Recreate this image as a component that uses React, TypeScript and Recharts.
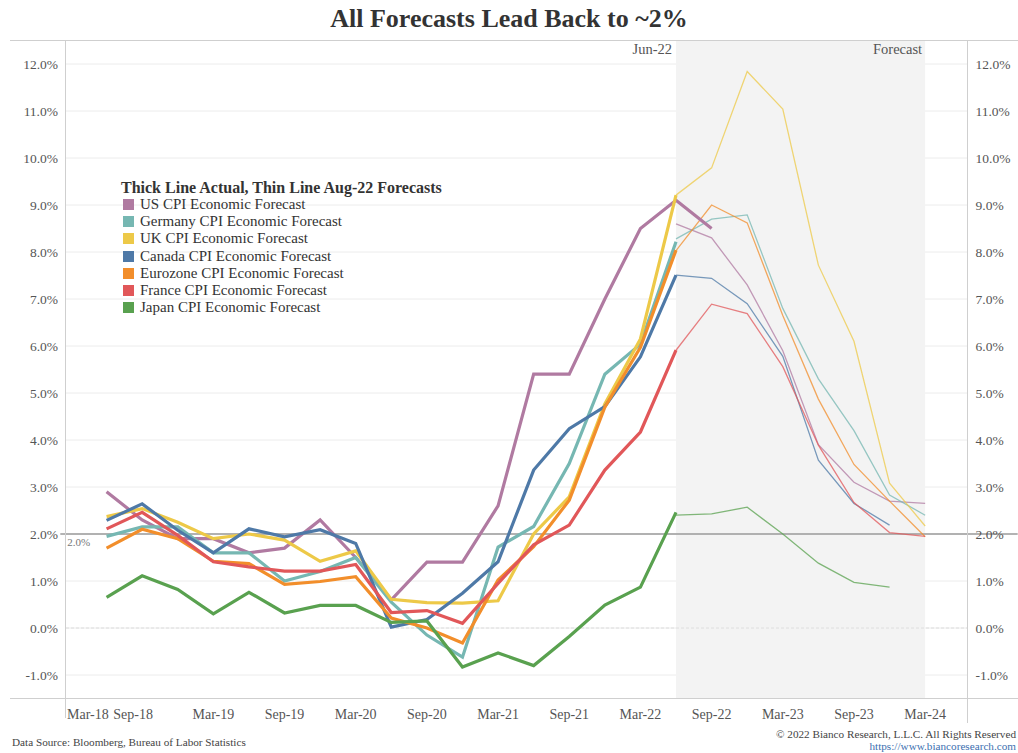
import React from "react";
import {
  LineChart,
  Line,
  XAxis,
  YAxis,
  CartesianGrid,
  ReferenceArea,
  ReferenceLine,
  Legend,
} from "recharts";

const FONT = "'Liberation Serif', Georgia, serif";

// quarter-end labels, index 0 = Mar-18
const quarters = [
  "Mar-18", "Jun-18", "Sep-18", "Dec-18",
  "Mar-19", "Jun-19", "Sep-19", "Dec-19",
  "Mar-20", "Jun-20", "Sep-20", "Dec-20",
  "Mar-21", "Jun-21", "Sep-21", "Dec-21",
  "Mar-22", "Jun-22", "Sep-22", "Dec-22",
  "Mar-23", "Jun-23", "Sep-23", "Dec-23",
  "Mar-24",
];
const xTicks = [0, 2, 4, 6, 8, 10, 12, 14, 16, 18, 20, 22, 24];
const yTicks = [-1, 0, 1, 2, 3, 4, 5, 6, 7, 8, 9, 10, 11, 12];

// actual prints start at Jun-18, Aug-22 forecasts start at Jun-22
const ACTUAL_FROM = 1;
const FORECAST_FROM = 17;

const usActual = [2.9, 2.3, 1.9, 1.9, 1.6, 1.7, 2.3, 1.5, 0.6, 1.4, 1.4, 2.6, 5.4, 5.4, 7.0, 8.5, 9.1, 8.5];
const germanyActual = [1.95, 2.15, 2.15, 1.6, 1.6, 1.0, 1.2, 1.5, 0.55, -0.15, -0.62, 1.72, 2.16, 3.5, 5.4, 6.04, 8.22];
const ukActual = [2.37, 2.54, 2.25, 1.9, 2.0, 1.87, 1.42, 1.64, 0.61, 0.54, 0.53, 0.58, 2.0, 2.79, 4.77, 6.15, 9.21];
const canadaActual = [2.29, 2.64, 2.08, 1.6, 2.11, 1.94, 2.09, 1.8, 0.02, 0.18, 0.74, 1.41, 3.36, 4.24, 4.71, 5.77, 7.51];
const eurozoneActual = [1.7, 2.1, 1.9, 1.42, 1.37, 0.93, 0.99, 1.09, 0.21, 0.0, -0.32, 1.02, 1.73, 2.72, 4.7, 5.97, 8.04];
const franceActual = [2.11, 2.46, 1.97, 1.41, 1.3, 1.21, 1.21, 1.35, 0.33, 0.37, 0.1, 0.95, 1.77, 2.19, 3.36, 4.17, 5.91];
const japanActual = [0.65, 1.11, 0.82, 0.3, 0.76, 0.32, 0.48, 0.48, 0.12, 0.15, -0.83, -0.53, -0.8, -0.18, 0.49, 0.87, 2.46];

const usForecast = [8.6, 8.3, 7.3, 5.9, 3.9, 3.1, 2.7, 2.65];
const germanyForecast = [8.28, 8.7, 8.79, 6.8, 5.3, 4.2, 2.83, 2.4];
const ukForecast = [9.21, 9.79, 11.84, 11.04, 7.72, 6.1, 3.08, 2.17];
const canadaForecast = [7.51, 7.44, 6.9, 5.78, 3.57, 2.65, 2.19];
const eurozoneForecast = [8.03, 9.0, 8.62, 6.65, 4.87, 3.48, 2.7, 1.94];
const franceForecast = [5.91, 6.89, 6.69, 5.56, 3.89, 2.67, 2.03, 1.95];
const japanForecast = [2.4, 2.43, 2.57, 2.0, 1.38, 0.97, 0.87];

const series = [
  { key: "us", name: "US CPI Economic Forecast", color: "#b07aa1", actual: usActual, forecast: usForecast },
  { key: "de", name: "Germany CPI Economic Forecast", color: "#76b7b2", actual: germanyActual, forecast: germanyForecast },
  { key: "uk", name: "UK CPI Economic Forecast", color: "#edc948", actual: ukActual, forecast: ukForecast },
  { key: "ca", name: "Canada CPI Economic Forecast", color: "#4e79a7", actual: canadaActual, forecast: canadaForecast },
  { key: "ez", name: "Eurozone CPI Economic Forecast", color: "#f28e2b", actual: eurozoneActual, forecast: eurozoneForecast },
  { key: "fr", name: "France CPI Economic Forecast", color: "#e15759", actual: franceActual, forecast: franceForecast },
  { key: "jp", name: "Japan CPI Economic Forecast", color: "#59a14f", actual: japanActual, forecast: japanForecast },
];

const rows = quarters.map((label, q) => {
  const row: Record<string, any> = { q, label };
  series.forEach((s) => {
    const a = s.actual[q - ACTUAL_FROM];
    const f = s.forecast[q - FORECAST_FROM];
    row[s.key + "A"] = a === undefined ? null : a;
    row[s.key + "F"] = f === undefined ? null : f;
  });
  return row;
});

const pct = (v: number) => `${v.toFixed(1)}%`;

function QuarterTick({ x, y, payload }: any) {
  const v = payload.value;
  // first label is pushed inside the frame, second nudged left to keep the gap
  const anchor = v === 0 ? "start" : "middle";
  const dx = v === 0 ? -4 : v === 2 ? -9 : 0;
  return (
    <text x={x + dx} y={y} dy={12} textAnchor={anchor} fill="#555" fontSize={14} fontFamily={FONT}>
      {quarters[v]}
    </text>
  );
}

function BandLabels({ viewBox }: any) {
  const { x, y, width } = viewBox;
  return (
    <g fill="#555" fontSize={14.5} fontFamily={FONT}>
      <text x={x - 4} y={y + 13} textAnchor="end">Jun-22</text>
      <text x={x + width - 3} y={y + 13} textAnchor="end">Forecast</text>
    </g>
  );
}

function TargetLabel({ viewBox }: any) {
  return (
    <text x={viewBox.x + 7} y={viewBox.y + 12} fill="#777" fontSize={11} fontFamily={FONT}>
      2.0%
    </text>
  );
}

function LegendBox() {
  return (
    <div style={{ fontFamily: FONT, color: "#333", textAlign: "left" }}>
      <div style={{ fontWeight: "bold", fontSize: 16, lineHeight: "16px" }}>
        Thick Line Actual, Thin Line Aug-22 Forecasts
      </div>
      {series.map((s) => (
        <div key={s.key} style={{ display: "flex", alignItems: "center", height: 17.2, fontSize: 15 }}>
          <span style={{ width: 11, height: 11, background: s.color, marginLeft: 2, marginRight: 6 }} />
          {s.name}
        </div>
      ))}
    </div>
  );
}

const frame = "#cfcfcf";

export default function App() {
  return (
    <div style={{ position: "relative", width: 1018, height: 753, overflow: "hidden", background: "#fff", fontFamily: FONT }}>
      <style>{"body{margin:0}"}</style>
      <div
        style={{
          position: "absolute", top: 3, left: 0, width: 1018, textAlign: "center",
          fontSize: 26, fontWeight: "bold", color: "#333", lineHeight: "32px",
        }}
      >
        All Forecasts Lead Back to ~2%
      </div>

      <LineChart width={1018} height={753} data={rows} margin={{ top: 40.5, right: 0, bottom: 24.5, left: 0 }}>
        <ReferenceArea
          x1={FORECAST_FROM}
          x2={24}
          y1={-1.5}
          y2={12.5}
          fill="#f3f3f3"
          fillOpacity={1}
          stroke="none"
          label={<BandLabels />}
        />
        <CartesianGrid vertical={false} stroke="#ececec" />
        <ReferenceLine y={0} stroke="#dedede" strokeDasharray="3 2" />
        <XAxis
          type="number"
          dataKey="q"
          domain={[-0.14, 25.19]}
          ticks={xTicks}
          axisLine={false}
          tickLine={false}
          height={30}
          tick={<QuarterTick />}
          allowDataOverflow
        />
        <YAxis
          domain={[-1.5, 12.5]}
          ticks={yTicks}
          tickFormatter={pct}
          width={66}
          axisLine={false}
          tickLine={false}
          tick={{ fill: "#555", fontSize: 13.5, fontFamily: FONT }}
          allowDataOverflow
        />
        <YAxis
          yAxisId="right"
          orientation="right"
          domain={[-1.5, 12.5]}
          ticks={yTicks}
          tickFormatter={pct}
          width={50.5}
          axisLine={false}
          tickLine={false}
          tick={{ fill: "#555", fontSize: 13.5, fontFamily: FONT }}
          allowDataOverflow
        />
        <ReferenceLine
          segment={[{ x: -0.3, y: 2 }, { x: 26.6, y: 2 }]}
          ifOverflow="visible"
          stroke="#9a9a9a"
          strokeWidth={1.5}
          label={<TargetLabel />}
        />
        {series.map((s) => (
          <Line
            key={s.key + "F"}
            dataKey={s.key + "F"}
            stroke={s.color}
            strokeWidth={1.3}
            strokeOpacity={0.75}
            dot={false}
            activeDot={false}
            type="linear"
            isAnimationActive={false}
          />
        ))}
        {series.map((s) => (
          <Line
            key={s.key + "A"}
            dataKey={s.key + "A"}
            stroke={s.color}
            strokeWidth={3.2}
            dot={false}
            activeDot={false}
            type="linear"
            isAnimationActive={false}
          />
        ))}
        <Legend
          layout="vertical"
          align="center"
          verticalAlign="middle"
          content={<LegendBox />}
          wrapperStyle={{ left: 121, top: 180, width: "auto", height: "auto" }}
        />
      </LineChart>

      {/* frame */}
      <div style={{ position: "absolute", left: 10, top: 40, width: 1008, height: 1, background: frame }} />
      <div style={{ position: "absolute", left: 10, top: 698, width: 1008, height: 1, background: frame }} />
      <div style={{ position: "absolute", left: 65, top: 40, width: 1, height: 678, background: frame }} />
      <div style={{ position: "absolute", left: 967, top: 40, width: 1, height: 683, background: frame }} />

      <div style={{ position: "absolute", left: 12, top: 736, fontSize: 11.2, color: "#444", whiteSpace: "nowrap" }}>
        Data Source: Bloomberg, Bureau of Labor Statistics
      </div>
      <div
        style={{
          position: "absolute", right: 2, top: 728, fontSize: 11.2, lineHeight: "12px",
          color: "#444", whiteSpace: "nowrap", textAlign: "right",
        }}
      >
        © 2022 Bianco Research, L.L.C. All Rights Reserved
        <div style={{ color: "#3c6fb0" }}>https://www.biancoresearch.com</div>
      </div>
    </div>
  );
}
